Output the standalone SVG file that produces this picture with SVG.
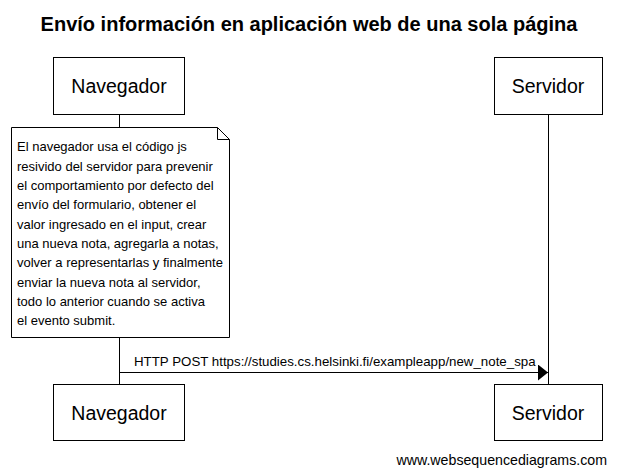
<svg xmlns="http://www.w3.org/2000/svg" width="617" height="476" viewBox="0 0 617 476">
<style>
  .box{fill:#fff;stroke:#000;stroke-width:1}
  .life{stroke:#000;stroke-width:1;fill:none}
  .t{font-family:"Liberation Sans",Arial,sans-serif;fill:#000}
  .actor{font-size:19.5px;text-anchor:middle}
  .note{font-size:13px}
  .msg{font-size:13.3px}
</style>
<defs>
  <marker id="arr" markerWidth="10" markerHeight="16" refX="10" refY="8" orient="auto" markerUnits="userSpaceOnUse">
    <path d="M0,0 L10,8 L0,16 Z" fill="#000"/>
  </marker>
</defs>
<rect width="617" height="476" fill="#fff"/>
<text class="t" x="309" y="31" font-size="20" font-weight="bold" text-anchor="middle">Envío información en aplicación web de una sola página</text>
<g id="lifelines" class="life">
  <line x1="119.5" y1="114" x2="119.5" y2="384"/>
  <line x1="548.5" y1="114" x2="548.5" y2="384"/>
</g>
<g id="navegador-top">
  <rect class="box" x="53.5" y="57.5" width="131" height="57"/>
  <text class="t actor" x="119" y="93">Navegador</text>
</g>
<g id="servidor-top">
  <rect class="box" x="494.5" y="57.5" width="108" height="57"/>
  <text class="t actor" x="548" y="93">Servidor</text>
</g>
<g id="note">
  <path class="box" d="M11.5,127.5 H217.5 L229.5,139.5 V337.5 H11.5 Z"/>
  <path d="M217.5,127.5 V139.5 H229.5" fill="none" stroke="#000"/>
  <text class="t note" x="17">
    <tspan x="17" y="151">El navegador usa el código js</tspan>
    <tspan x="17" y="171">resivido del servidor para prevenir</tspan>
    <tspan x="17" y="190">el comportamiento por defecto del</tspan>
    <tspan x="17" y="209">envío del formulario, obtener el</tspan>
    <tspan x="17" y="229">valor ingresado en el input, crear</tspan>
    <tspan x="17" y="248">una nueva nota, agregarla a notas,</tspan>
    <tspan x="17" y="267">volver a representarlas y finalmente</tspan>
    <tspan x="17" y="287">enviar la nueva nota al servidor,</tspan>
    <tspan x="17" y="306">todo lo anterior cuando se activa</tspan>
    <tspan x="17" y="325">el evento submit.</tspan>
  </text>
</g>
<g id="connectors">
  <line x1="119.5" y1="372.5" x2="548" y2="372.5" stroke="#000" stroke-width="1" marker-end="url(#arr)"/>
  <text class="t msg" x="134" y="366">HTTP POST https://studies.cs.helsinki.fi/exampleapp/new_note_spa</text>
</g>
<g id="navegador-bottom">
  <rect class="box" x="53.5" y="384.5" width="131" height="56"/>
  <text class="t actor" x="119" y="420">Navegador</text>
</g>
<g id="servidor-bottom">
  <rect class="box" x="494.5" y="384.5" width="108" height="56"/>
  <text class="t actor" x="548" y="420">Servidor</text>
</g>
<text class="t" x="607" y="465" font-size="14.2" text-anchor="end">www.websequencediagrams.com</text>
</svg>
